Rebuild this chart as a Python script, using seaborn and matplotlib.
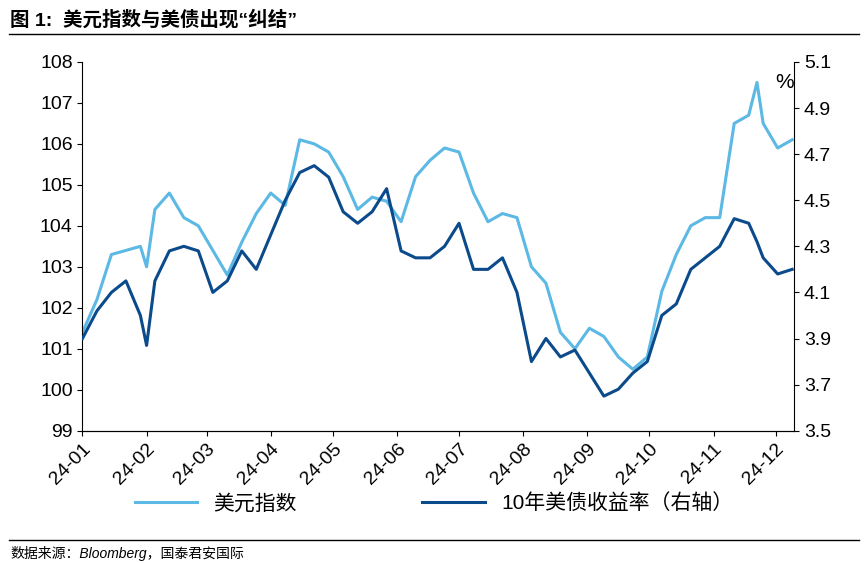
import matplotlib
matplotlib.use("Agg")
import matplotlib.pyplot as plt
import matplotlib.dates as mdates
import seaborn as sns
import pandas as pd

plt.rcParams["font.family"] = ["Liberation Sans", "Noto Sans CJK SC"]

dates = ["2024-01-01","2024-01-08","2024-01-15","2024-01-22","2024-01-29","2024-02-01","2024-02-05","2024-02-12","2024-02-19","2024-02-26",
         "2024-03-04","2024-03-11","2024-03-18","2024-03-25","2024-04-01","2024-04-08","2024-04-15","2024-04-22","2024-04-29",
         "2024-05-06","2024-05-13","2024-05-20","2024-05-27","2024-06-03","2024-06-10","2024-06-17","2024-06-24",
         "2024-07-01","2024-07-08","2024-07-15","2024-07-22","2024-07-29","2024-08-05","2024-08-12","2024-08-19","2024-08-26",
         "2024-09-02","2024-09-09","2024-09-16","2024-09-23","2024-09-30","2024-10-07","2024-10-14","2024-10-21","2024-10-28",
         "2024-11-04","2024-11-11","2024-11-18","2024-11-22","2024-11-25","2024-12-02","2024-12-09"]
dxy = [101.4,102.2,103.3,103.4,103.5,103.0,104.4,104.8,104.2,104.0,
       103.4,102.8,103.6,104.3,104.8,104.5,106.1,106.0,105.8,
       105.2,104.4,104.7,104.6,104.1,105.2,105.6,105.9,
       105.8,104.8,104.1,104.3,104.2,103.0,102.6,101.4,101.0,
       101.5,101.3,100.8,100.5,100.8,102.4,103.3,104.0,104.2,
       104.2,106.5,106.7,107.5,106.5,105.9,106.1]
ust10 = [3.90,4.02,4.10,4.15,4.00,3.87,4.15,4.28,4.30,4.28,
         4.10,4.15,4.28,4.20,4.35,4.50,4.62,4.65,4.60,
         4.45,4.40,4.45,4.55,4.28,4.25,4.25,4.30,
         4.40,4.20,4.20,4.25,4.10,3.80,3.90,3.82,3.85,
         3.75,3.65,3.68,3.75,3.80,4.00,4.05,4.20,4.25,
         4.30,4.42,4.40,4.32,4.25,4.18,4.20]
xticks = ["24-01","24-02","24-03","24-04","24-05","24-06","24-07","24-08","24-09","24-10","24-11","24-12"]

df = pd.DataFrame({"date": pd.to_datetime(dates), "dxy": dxy, "ust": ust10})
light, dark = "#5cb8e4", "#0b4a8b"

fig = plt.figure(figsize=(8.68, 5.63), dpi=100)
ax = fig.add_axes([0.095, 0.235, 0.82, 0.655])
ax2 = ax.twinx()
sns.lineplot(data=df, x="date", y="dxy", ax=ax, color=light, lw=2.2, label="美元指数", legend=False)
sns.lineplot(data=df, x="date", y="ust", ax=ax2, color=dark, lw=2.2, label="10年美债收益率（右轴）", legend=False)

ax.set_ylim(99, 108); ax.set_yticks(range(99, 109))
ax2.set_ylim(3.5, 5.1); ax2.set_yticks([3.5,3.7,3.9,4.1,4.3,4.5,4.7,4.9,5.1])
ax2.set_yticklabels([f"{v:.1f}" for v in ax2.get_yticks()])
ax.set_xlim(pd.Timestamp("2024-01-01"), pd.Timestamp("2024-12-10"))
ax.set_xticks(pd.to_datetime([f"2024-{m:02d}-01" for m in range(1, 13)]))
ax.set_xticklabels(xticks, rotation=45, ha="right", rotation_mode="anchor")
for a in (ax, ax2):
    a.set_xlabel(""); a.set_ylabel("")
    a.tick_params(labelsize=14, direction="out")
    for s in ["top"]:
        a.spines[s].set_visible(False)
ax.spines["right"].set_visible(False)
ax2.spines["left"].set_visible(False)
ax2.text(1.0, 0.93, "%", transform=ax.transAxes, ha="right", fontsize=15)

h1, l1 = ax.get_legend_handles_labels(); h2, l2 = ax2.get_legend_handles_labels()
fig.legend(h1 + h2, l1 + l2, loc="lower center", bbox_to_anchor=(0.5, 0.055), ncol=2,
           frameon=False, fontsize=15, columnspacing=6, handlelength=3)

fig.text(0.012, 0.955, "图 1:  美元指数与美债出现“纠结”", fontsize=14, fontweight="bold")
fig.add_artist(plt.Line2D([0.01, 0.99], [0.94, 0.94], color="black", lw=1))
fig.add_artist(plt.Line2D([0.01, 0.99], [0.04, 0.04], color="black", lw=1))
fig.text(0.012, 0.008, "数据来源：Bloomberg，国泰君安国际", fontsize=10, style="italic")
fig.savefig("out.png", dpi=100)
